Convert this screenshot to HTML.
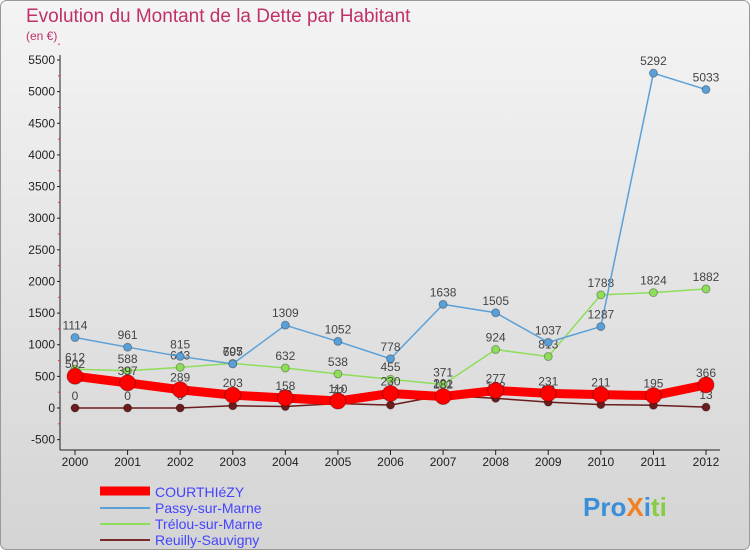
<!DOCTYPE html>
<html><head><meta charset="utf-8"><style>
body{margin:0;background:#fff}
svg text{font-family:"Liberation Sans","DejaVu Sans",sans-serif}
</style></head><body>
<svg width="750" height="550" xmlns="http://www.w3.org/2000/svg">
<defs><linearGradient id="bg" x1="0" y1="0" x2="0" y2="1"><stop offset="0" stop-color="#f4f4f4"/><stop offset="1" stop-color="#d4d4d4"/></linearGradient></defs>
<rect x="0.5" y="0.5" width="749" height="549" rx="6" fill="url(#bg)" stroke="#999"/>
<text x="26" y="22" font-size="19" fill="#c0306a">Evolution du Montant de la Dette par Habitant</text>
<text x="26" y="40" font-size="12" fill="#c0306a">(en €)</text>
<g id="axes"></g>
<g id="series"></g>
<g id="legend">
<line x1="100" y1="491" x2="150" y2="491" stroke="#f00" stroke-width="9"/>
<text x="155" y="497" font-size="14" fill="#44f">COURTHIéZY</text>
<line x1="100" y1="508" x2="150" y2="508" stroke="#5aa0d8" stroke-width="2"/>
<text x="155" y="513" font-size="14" fill="#44f">Passy-sur-Marne</text>
<line x1="100" y1="524" x2="150" y2="524" stroke="#8ede5a" stroke-width="2"/>
<text x="155" y="529" font-size="14" fill="#44f">Trélou-sur-Marne</text>
<line x1="100" y1="540" x2="150" y2="540" stroke="#7a2a2a" stroke-width="2"/>
<text x="155" y="545" font-size="14" fill="#44f">Reuilly-Sauvigny</text>
</g>
<text x="583" y="516" font-size="26" font-weight="bold" fill="#3a8fd8">Pro<tspan fill="#f08020">X</tspan><tspan fill="#3a8fd8">i</tspan><tspan fill="#8c4">ti</tspan></text>
</svg>
<script>
const years=[2000,2001,2002,2003,2004,2005,2006,2007,2008,2009,2010,2011,2012];
const yTicks=[-500,0,500,1000,1500,2000,2500,3000,3500,4000,4500,5000,5500];
const courthiezy=[502,397,289,203,158,110,230,182,277,231,211,195,366];
const passy=[1114,961,815,697,1309,1052,778,1638,1505,1037,1287,5292,5033];
const trelou=[612,588,643,705,632,538,455,371,924,813,1788,1824,1882];
const reuilly=[0,0,0,35,23,72,46,201,153,92,54,43,13];
const NS="http://www.w3.org/2000/svg";
function X(i){return 75+i*(706-75)/12;}
function Y(v){return 408-v*(348/5500);}
function mk(t,a,p){const e=document.createElementNS(NS,t);for(const k in a)e.setAttribute(k,a[k]);p.appendChild(e);return e;}
const ax=document.getElementById('axes');
const yl=mk('line',{x1:60,y1:55,x2:60,y2:450,stroke:'#222'},ax);


const xl=mk('line',{x1:60,y1:450,x2:720,y2:450,stroke:'#222'},ax);


yTicks.forEach(v=>{
 const t=mk('text',{x:55,y:Y(v)+4,'font-size':12,'text-anchor':'end',fill:'#222'},ax);t.textContent=v;
 
 
 mk('line',{x1:57,y1:Y(v),x2:60,y2:Y(v),stroke:'#222'},ax);
 mk('line',{x1:58,y1:Y(v+250),x2:60,y2:Y(v+250),stroke:'#e33'},ax);
});
years.forEach((y,i)=>{
 mk('line',{x1:X(i),y1:450,x2:X(i),y2:455,stroke:'#222'},ax);
 const t=mk('text',{x:X(i),y:466,'font-size':12,'text-anchor':'middle',fill:'#222'},ax);t.textContent=y;
 
 
});
const sg=document.getElementById('series');
function series(d,color,w,r,name){
 const g=mk('g',{},sg);
 
 
 const pl=mk('polyline',{points:d.map((v,i)=>X(i)+','+Y(v)).join(' '),fill:'none',stroke:color,'stroke-width':w,'stroke-linejoin':'round'},g);
 
 
 d.forEach((v,i)=>{
  const c=mk('circle',{cx:X(i),cy:Y(v),r:r,fill:color,stroke:'rgba(0,0,0,0.3)'},g);
  
  
  const t=mk('text',{x:X(i),y:Y(v)-8,'font-size':12,'text-anchor':'middle',fill:'#444'},g);t.textContent=v;
  
  
 });
}
series(reuilly,'#6b1c1c',1.5,4,'reuilly');
series(trelou,'#8ede5a',1.5,4,'trelou');
series(passy,'#5aa0d8',1.5,4,'passy');
series(courthiezy,'#f00',9,8,'courthiezy');
</script>
</body></html>
